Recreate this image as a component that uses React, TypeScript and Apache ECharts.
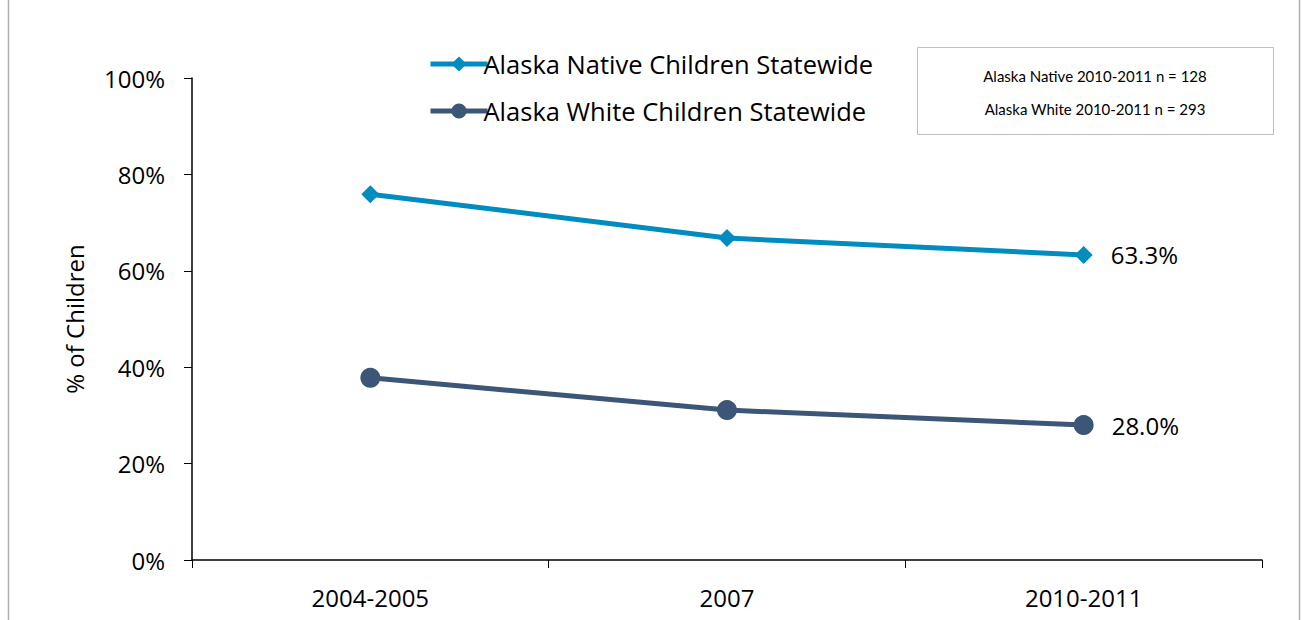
import React, { useEffect, useRef } from "react";
import * as echarts from "echarts";

const categories = ["2004-2005", "2007", "2010-2011"];
const nativeValues = [75.9, 66.8, 63.3];
const whiteValues = [37.8, 31.1, 28.0];
const seriesNames = ["Alaska Native Children Statewide", "Alaska White Children Statewide"];
const noteLines = ["Alaska Native 2010-2011 n = 128", "Alaska White 2010-2011 n = 293"];
const yTicks = [0, 20, 40, 60, 80, 100];

export default function App() {
  const ref = useRef<HTMLDivElement>(null);
  useEffect(() => {
    const chart = echarts.init(ref.current!, null, { renderer: "svg" });
    const lastIdx = categories.length - 1;
    const labelFor = (arr: number[]) =>
      arr.map((v, i) => ({
        value: v,
        label: {
          show: i === lastIdx,
          position: "right",
          distance: 18,
          formatter: (p: any) => p.value.toFixed(1) + "%",
          fontSize: 24,
          fontFamily: "Open Sans",
          color: "#000",
        },
      }));
    const font = "Open Sans";
    chart.setOption({
      animation: false,
      backgroundColor: "#fff",
      grid: { left: 192, right: 40, top: 78, bottom: 60 },
      legend: {
        orient: "vertical",
        left: 423,
        top: 46,
        itemWidth: 57,
        itemHeight: 19,
        itemGap: 21,
        lineStyle: { width: 5 },
        textStyle: { fontSize: 25.5, lineHeight: 25, fontFamily: font, color: "#000", padding: [0, 0, 0, -9] },
        data: seriesNames,
      },
      xAxis: {
        type: "category",
        data: categories,
        boundaryGap: true,
        axisLine: { lineStyle: { color: "#000", width: 1.5 } },
        axisTick: { show: true, length: 8, lineStyle: { color: "#000" } },
        axisLabel: { fontSize: 24, fontFamily: font, color: "#000", margin: 25 },
      },
      yAxis: {
        type: "value",
        min: 0,
        max: 100,
        interval: 20,
        name: "% of Children",
        nameLocation: "middle",
        nameGap: 106,
        nameTextStyle: { fontSize: 24, fontFamily: font, color: "#000" },
        axisLine: { show: true, lineStyle: { color: "#000", width: 1.5 } },
        axisTick: { show: true, length: 8, lineStyle: { color: "#000" } },
        splitLine: { show: false },
        axisLabel: {
          fontSize: 24,
          fontFamily: font,
          color: "#000",
          margin: 27,
          formatter: (v: number) => (yTicks.includes(v) ? v + "%" : ""),
        },
      },
      series: [
        {
          name: seriesNames[0],
          type: "line",
          data: labelFor(nativeValues),
          symbol: "diamond",
          symbolSize: 18,
          lineStyle: { color: "#008CBE", width: 5 },
          itemStyle: { color: "#008CBE" },
        },
        {
          name: seriesNames[1],
          type: "line",
          data: labelFor(whiteValues),
          symbol: "circle",
          symbolSize: 20,
          lineStyle: { color: "#3B5677", width: 5 },
          itemStyle: { color: "#3B5677" },
        },
      ],
      graphic: [
        { type: "line", shape: { x1: 8.5, y1: 0, x2: 8.5, y2: 620 }, style: { stroke: "#b0b0b0", lineWidth: 1.5 } },
        { type: "line", shape: { x1: 1299.5, y1: 0, x2: 1299.5, y2: 620 }, style: { stroke: "#b0b0b0", lineWidth: 1.5 } },
        {
          type: "rect",
          shape: { x: 917.5, y: 47.5, width: 356, height: 87 },
          style: { fill: "#fff", stroke: "#bfbfbf", lineWidth: 1 },
        },
        {
          type: "text",
          x: 1095,
          y: 76,
          style: { text: noteLines[0], fontSize: 15, fontFamily: "Lato", fill: "#000", align: "center", verticalAlign: "middle" },
        },
        {
          type: "text",
          x: 1095,
          y: 109,
          style: { text: noteLines[1], fontSize: 15, fontFamily: "Lato", fill: "#000", align: "center", verticalAlign: "middle" },
        },
      ],
    });
    return () => chart.dispose();
  }, []);
  return <div ref={ref} style={{ position: "fixed", left: 0, top: 0, width: 1302, height: 620 }} />;
}
